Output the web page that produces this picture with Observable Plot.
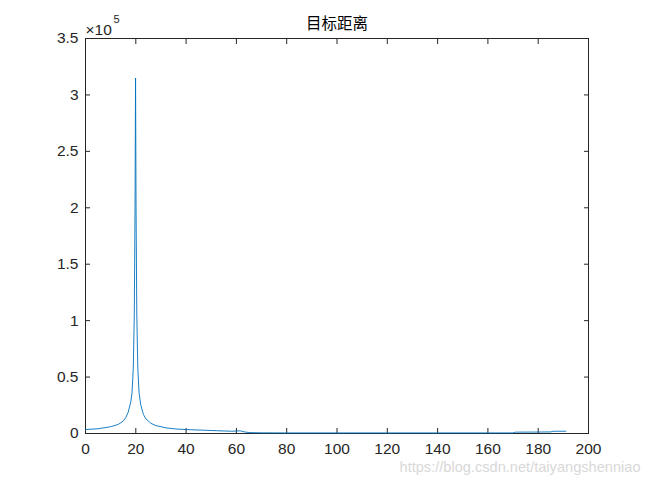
<!DOCTYPE html>
<html>
<head>
<meta charset="utf-8">
<script src="https://cdn.jsdelivr.net/npm/d3@7"></script>
<script src="https://cdn.jsdelivr.net/npm/@observablehq/plot@0.6"></script>
<style>
  html, body { margin: 0; padding: 0; background: #fff; }
  #chart { width: 650px; height: 488px; }
</style>
</head>
<body>
<div id="chart"></div>
<script>
const title = "目标距离";
const watermark = "https://blog.csdn.net/taiyangshenniao";
const xTicks = [0, 20, 40, 60, 80, 100, 120, 140, 160, 180, 200];
const yTicks = [0, 50000, 100000, 150000, 200000, 250000, 300000, 350000];

// distance samples and magnitude
const distance = [0, 5, 10, 13, 15, 16, 17, 18, 18.5, 19, 19.4, 19.7, 19.9, 20.1, 20.4, 20.8, 21.3, 22, 23, 24, 26, 28, 32, 36, 40, 46, 52, 58, 60, 61.5, 63, 65, 70, 80, 100, 120, 140, 160, 170, 171, 180, 185, 186, 191];
const magnitude = [3500, 4200, 6000, 8000, 11000, 14000, 19000, 28000, 36000, 58000, 105000, 200000, 315000, 200000, 105000, 58000, 36000, 25000, 17000, 13000, 9000, 7000, 5000, 4000, 3500, 3000, 2500, 2000, 2200, 2400, 1500, 800, 600, 500, 500, 500, 500, 500, 500, 1200, 1300, 1400, 2000, 2000];

const data = distance.map((d, i) => ({x: d, y: magnitude[i]}));

const chart = Plot.plot({
  width: 650,
  height: 488,
  marginLeft: 85,
  marginRight: 62,
  marginTop: 38,
  marginBottom: 55,
  style: {fontFamily: "'Liberation Sans', Arial, sans-serif", fontSize: "15.5px", color: "#262626", background: "#fff"},
  x: {domain: [0, 200]},
  y: {domain: [0, 350000]},
  marks: [
    Plot.frame({stroke: "#262626", strokeWidth: 1}),
    Plot.axisX({anchor: "bottom", ticks: xTicks, tickSize: -5, tickPadding: 14, label: null, stroke: "#262626", fill: "#262626"}),
    Plot.axisX({anchor: "top", ticks: xTicks, tickSize: -5, tickFormat: () => "", label: null, stroke: "#262626"}),
    Plot.axisY({anchor: "left", ticks: yTicks, tickSize: -5, tickPadding: 12, tickFormat: d => String(d / 1e5), label: null, stroke: "#262626", fill: "#262626"}),
    Plot.axisY({anchor: "right", ticks: yTicks, tickSize: -5, tickFormat: () => "", label: null, stroke: "#262626"}),
    Plot.line(data, {x: "x", y: "y", stroke: "#0072BD", strokeWidth: 0.9}),
    Plot.text([title], {frameAnchor: "top", dy: -21, fontSize: 15.5, fontFamily: "'Noto Sans CJK SC', sans-serif", fill: "#000"}),
    Plot.text(["×10"], {frameAnchor: "top-left", dy: -15, dx: 0, textAnchor: "start", fontSize: 15.5, fill: "#262626"}),
    Plot.text(["5"], {frameAnchor: "top-left", dy: -23, dx: 28, textAnchor: "start", fontSize: 11, fill: "#262626"}),
    Plot.text([watermark], {frameAnchor: "bottom-right", dy: 38, dx: 52, textAnchor: "end", fontSize: 14.6, fill: "#d8d8d8"})
  ]
});
document.getElementById("chart").appendChild(chart);
</script>
</body>
</html>
